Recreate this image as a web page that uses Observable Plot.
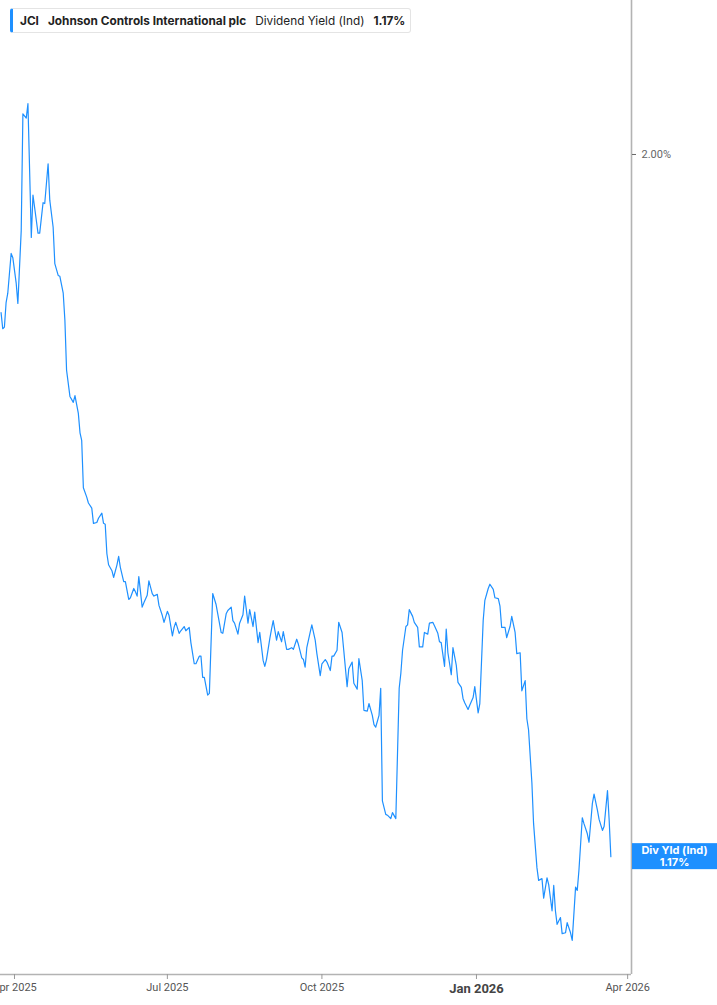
<!DOCTYPE html>
<html>
<head>
<meta charset="utf-8">
<script src="https://cdn.jsdelivr.net/npm/d3@7"></script>
<script src="https://cdn.jsdelivr.net/npm/@observablehq/plot@0.6"></script>
<style>
  html, body { margin: 0; padding: 0; background: #fff; }
  #wrap { position: relative; width: 717px; height: 1005px; overflow: hidden; font-family: Inter, "Noto Sans", sans-serif; }
  #legend { position: absolute; left: 10px; top: 8px; height: 23px; display: flex; align-items: center;
    background: #fff; border: 1px solid #e4e4e4; border-left: 3px solid #1e90ff; border-radius: 3px;
    padding: 0 5px 0 7px; font-size: 11.8px; color: #222; white-space: nowrap; }
  #legend span { margin-right: 9px; }
  #legend span:last-child { margin-right: 0; }
  .b { font-weight: 700; }
</style>
</head>
<body>
<div id="wrap">
  <div id="legend"></div>
</div>
<script>
// ---- data ----
const ticker = "JCI";
const company = "Johnson Controls International plc";
const metric = "Dividend Yield (Ind)";
const shortMetric = "Div Yld (Ind)";

const dates = [
"2025-03-24","2025-03-25","2025-03-26","2025-03-27","2025-03-28","2025-03-30","2025-03-31","2025-04-02","2025-04-03","2025-04-05",
"2025-04-06","2025-04-08","2025-04-09","2025-04-11","2025-04-12","2025-04-14","2025-04-15","2025-04-16","2025-04-18","2025-04-19",
"2025-04-21","2025-04-22","2025-04-24","2025-04-25","2025-04-27","2025-04-28","2025-04-30","2025-05-01","2025-05-02","2025-05-04",
"2025-05-06","2025-05-07","2025-05-09","2025-05-10","2025-05-11","2025-05-12","2025-05-14","2025-05-15","2025-05-17","2025-05-18",
"2025-05-20","2025-05-21","2025-05-23","2025-05-24","2025-05-25","2025-05-26","2025-05-27","2025-05-29","2025-05-30","2025-06-01",
"2025-06-02","2025-06-03","2025-06-05","2025-06-06","2025-06-08","2025-06-09","2025-06-11","2025-06-12","2025-06-13","2025-06-14",
"2025-06-16","2025-06-17","2025-06-19","2025-06-20","2025-06-22","2025-06-23","2025-06-25","2025-06-26","2025-06-28","2025-06-29",
"2025-07-01","2025-07-02","2025-07-04","2025-07-05","2025-07-06","2025-07-08","2025-07-09","2025-07-11","2025-07-12","2025-07-14",
"2025-07-15","2025-07-17","2025-07-18","2025-07-20","2025-07-21","2025-07-22","2025-07-23","2025-07-25","2025-07-26","2025-07-28",
"2025-07-30","2025-07-31","2025-08-02","2025-08-03","2025-08-05","2025-08-06","2025-08-08","2025-08-09","2025-08-10","2025-08-12",
"2025-08-13","2025-08-15","2025-08-16","2025-08-18","2025-08-19","2025-08-21","2025-08-22","2025-08-24","2025-08-25","2025-08-27",
"2025-08-28","2025-08-29","2025-08-31","2025-09-01","2025-09-02","2025-09-04","2025-09-05","2025-09-07","2025-09-08","2025-09-10",
"2025-09-11","2025-09-13","2025-09-14","2025-09-16","2025-09-17","2025-09-19","2025-09-20","2025-09-21","2025-09-22","2025-09-24",
"2025-09-25","2025-09-27","2025-09-28","2025-09-30","2025-10-01","2025-10-03","2025-10-04","2025-10-06","2025-10-07","2025-10-08",
"2025-10-10","2025-10-11","2025-10-13","2025-10-14","2025-10-16","2025-10-17","2025-10-19","2025-10-20","2025-10-22","2025-10-23",
"2025-10-25","2025-10-26","2025-10-28","2025-10-29","2025-10-31","2025-11-01","2025-11-02","2025-11-04","2025-11-05","2025-11-06",
"2025-11-08","2025-11-09","2025-11-11","2025-11-12","2025-11-14","2025-11-16","2025-11-17","2025-11-18","2025-11-20","2025-11-21",
"2025-11-22","2025-11-24","2025-11-25","2025-11-27","2025-11-28","2025-11-30","2025-12-01","2025-12-03","2025-12-04","2025-12-06",
"2025-12-07","2025-12-09","2025-12-10","2025-12-11","2025-12-13","2025-12-14","2025-12-15","2025-12-17","2025-12-18","2025-12-20",
"2025-12-21","2025-12-23","2025-12-24","2025-12-25","2025-12-27","2025-12-28","2025-12-30","2025-12-31","2026-01-02","2026-01-03",
"2026-01-05","2026-01-06","2026-01-08","2026-01-09","2026-01-11","2026-01-12","2026-01-14","2026-01-15","2026-01-16","2026-01-18",
"2026-01-19","2026-01-21","2026-01-22","2026-01-24","2026-01-25","2026-01-27","2026-01-28","2026-01-30","2026-01-31","2026-02-01",
"2026-02-03","2026-02-04","2026-02-06","2026-02-07","2026-02-09","2026-02-10","2026-02-12","2026-02-13","2026-02-15","2026-02-16",
"2026-02-17","2026-02-18","2026-02-20","2026-02-21","2026-02-23","2026-02-24","2026-02-26","2026-02-27","2026-03-01","2026-03-02",
"2026-03-03","2026-03-05","2026-03-06","2026-03-08","2026-03-09","2026-03-11","2026-03-12","2026-03-14","2026-03-15","2026-03-17",
"2026-03-18","2026-03-20","2026-03-21","2026-03-22"
];

const yields = [
1.813,1.794,1.796,1.825,1.836,1.883,1.878,1.848,1.824,1.910,
2.048,2.043,2.060,1.902,1.952,1.922,1.907,1.907,1.943,1.942,
1.989,1.946,1.914,1.871,1.857,1.856,1.836,1.804,1.745,1.714,
1.707,1.715,1.694,1.671,1.662,1.606,1.595,1.588,1.582,1.564,
1.565,1.570,1.576,1.564,1.563,1.528,1.515,1.508,1.500,1.515,
1.525,1.512,1.495,1.495,1.474,1.476,1.487,1.483,1.478,1.501,
1.465,1.470,1.479,1.496,1.481,1.478,1.480,1.467,1.455,1.447,
1.460,1.455,1.431,1.441,1.447,1.434,1.437,1.442,1.437,1.441,
1.423,1.398,1.398,1.407,1.407,1.382,1.382,1.361,1.363,1.481,
1.468,1.457,1.435,1.434,1.457,1.461,1.465,1.449,1.446,1.433,
1.446,1.456,1.478,1.446,1.462,1.442,1.459,1.423,1.435,1.402,
1.395,1.403,1.428,1.439,1.449,1.426,1.436,1.424,1.436,1.415,
1.415,1.417,1.415,1.427,1.421,1.405,1.403,1.394,1.417,1.435,
1.444,1.426,1.410,1.384,1.398,1.403,1.400,1.390,1.407,1.407,
1.414,1.447,1.435,1.414,1.371,1.392,1.400,1.375,1.368,1.404,
1.378,1.343,1.342,1.351,1.337,1.326,1.323,1.337,1.369,1.236,
1.220,1.219,1.215,1.222,1.215,1.369,1.387,1.414,1.442,1.444,
1.462,1.454,1.447,1.441,1.418,1.418,1.435,1.433,1.446,1.447,
1.443,1.434,1.424,1.423,1.395,1.439,1.411,1.385,1.417,1.396,
1.376,1.370,1.357,1.352,1.344,1.349,1.358,1.371,1.340,1.351,
1.449,1.473,1.487,1.492,1.486,1.476,1.475,1.466,1.441,1.441,
1.429,1.442,1.454,1.435,1.410,1.411,1.366,1.378,1.333,1.320,
1.257,1.209,1.157,1.142,1.144,1.121,1.145,1.137,1.106,1.136,
1.106,1.090,1.098,1.079,1.080,1.092,1.080,1.071,1.134,1.130,
1.154,1.216,1.209,1.197,1.187,1.233,1.244,1.225,1.214,1.201,
1.206,1.248,1.213,1.170
];

const xTicks = ["2025-04-01","2025-07-01","2025-10-01","2026-01-01","2026-04-01"];
const yTicks = [2.00];
const xDomain = ["2025-03-23T16:00:00Z","2026-04-03T07:00:00Z"];
const yDomain = [1.0307, 2.182];

// ---- build ----
const rows = dates.map((d, i) => ({date: new Date(d), value: yields[i]}));
const last = rows[rows.length - 1];
const fmtPct = v => v.toFixed(2) + "%";

const legend = document.getElementById("legend");
legend.innerHTML = `<span class="b">${ticker}</span><span class="b">${company}</span><span>${metric}</span><span class="b">${fmtPct(last.value)}</span>`;

const lineColor = "#1e90ff";
const xd = xDomain.map(d => new Date(d));

const chart = Plot.plot({
  width: 717,
  height: 1005,
  marginTop: 0,
  marginBottom: 31,
  marginLeft: 0,
  marginRight: 86,
  style: {fontFamily: "Roboto, 'Noto Sans', sans-serif", fontSize: "11px", background: "#fff"},
  x: {type: "utc", domain: xd},
  y: {domain: yDomain},
  marks: [
    Plot.line(rows, {x: "date", y: "value", stroke: lineColor, strokeWidth: 1.2, curve: "linear"}),
    Plot.ruleX([xd[1]], {stroke: "#b3b3b3", strokeWidth: 1.6}),
    Plot.ruleY([yDomain[0]], {stroke: "#b3b3b3", strokeWidth: 1.6}),
    Plot.axisX({ticks: xTicks.map(d => new Date(d)), tickFormat: d3.utcFormat("%b %Y"), tickSize: 5, tickPadding: 4, stroke: "#999", fill: "#555", label: null}),
    Plot.axisY({anchor: "right", ticks: yTicks, tickFormat: fmtPct, tickSize: 4, tickPadding: 6, stroke: "#666", fill: "#666", label: null})
  ]
});

document.getElementById("wrap").insertBefore(chart, document.getElementById("legend"));

const svg = d3.select(chart);
svg.selectAll("g[aria-label='x-axis tick label'] text").each(function() {
  const t = d3.select(this);
  if (t.text() === "Jan 2026") t.attr("font-weight", 700).attr("font-size", 13).attr("fill", "#444");
});

// end-value label box
const yS = chart.scale("y");
const xS = chart.scale("x");
const cy = yS.apply(last.value);
const bx = xS.apply(xd[1]) + 1;
const g = svg.append("g");
g.append("rect").attr("x", bx).attr("y", cy - 13).attr("width", 717 - bx).attr("height", 26).attr("fill", lineColor);
g.append("text").attr("x", (bx + 717) / 2 ).attr("y", cy - 2.5).attr("text-anchor", "middle")
  .attr("fill", "#fff").attr("font-weight", 700).attr("font-size", 11).attr("font-family", "Inter, sans-serif").text(shortMetric);
g.append("text").attr("x", (bx + 717) / 2 ).attr("y", cy + 9.5).attr("text-anchor", "middle")
  .attr("fill", "#fff").attr("font-weight", 700).attr("font-size", 11).attr("font-family", "Inter, sans-serif").text(fmtPct(last.value));
</script>
</body>
</html>
